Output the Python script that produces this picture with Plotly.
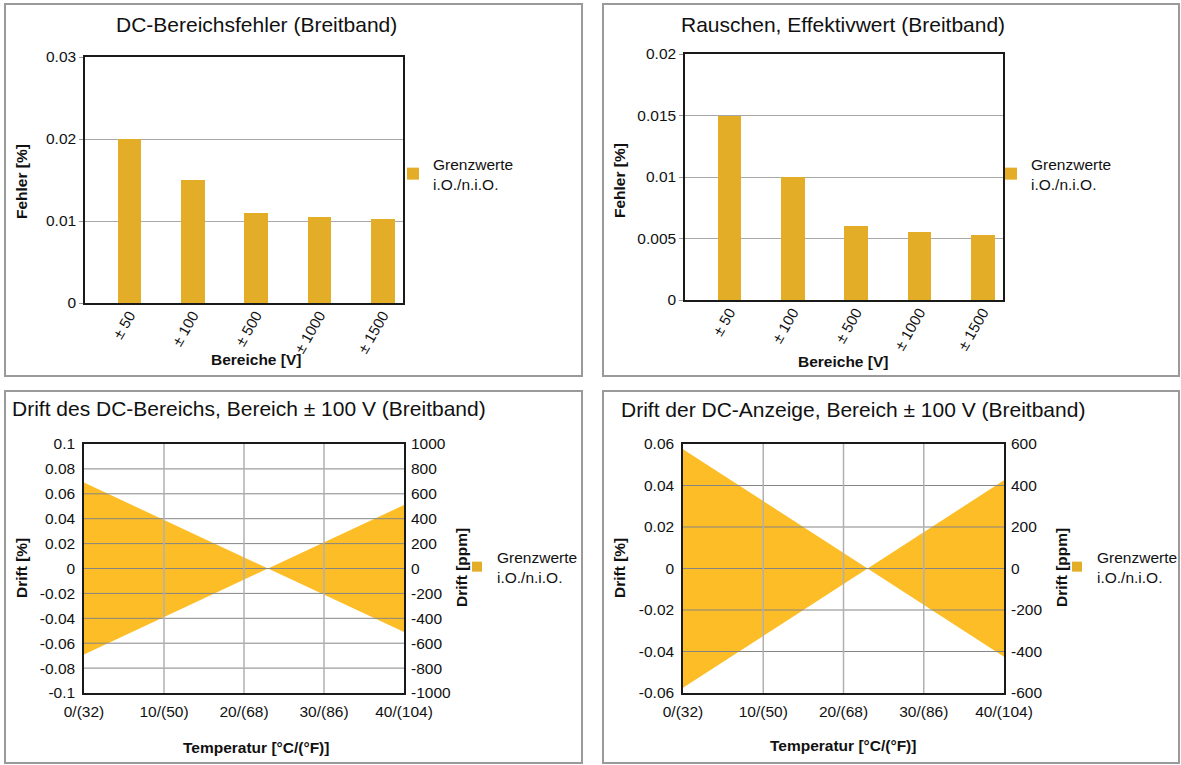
import plotly.graph_objects as go

W, H = 1181, 765

# ---------------- data ----------------
ranges = ["± 50", "± 100", "± 500", "± 1000", "± 1500"]
dc_range_error = [0.02, 0.015, 0.011, 0.0105, 0.0103]
noise_rms = [0.015, 0.01, 0.006, 0.0055, 0.0053]

temperatures = [0, 23, 40]
dc_range_drift = [0.069, 0.0, 0.051]
dc_display_drift = [0.0575, 0.0, 0.0425]

err_ticks = [0, 0.01, 0.02, 0.03]
noise_ticks = [0, 0.005, 0.01, 0.015, 0.02]
temp_ticks = [0, 10, 20, 30, 40]
temp_labels = ["0/(32)", "10/(50)", "20/(68)", "30/(86)", "40/(104)"]
drift1_ticks = [-0.1, -0.08, -0.06, -0.04, -0.02, 0, 0.02, 0.04, 0.06, 0.08, 0.1]
drift1_labels = ["-0.1", "-0.08", "-0.06", "-0.04", "-0.02", "0", "0.02", "0.04", "0.06", "0.08", "0.1"]
drift1_ppm_ticks = [-1000, -800, -600, -400, -200, 0, 200, 400, 600, 800, 1000]
drift1_ppm_labels = ["-1000", "-800", "-600", "-400", "-200", "0", "200", "400", "600", "800", "1000"]
drift2_ticks = [-0.06, -0.04, -0.02, 0, 0.02, 0.04, 0.06]
drift2_labels = ["-0.06", "-0.04", "-0.02", "0", "0.02", "0.04", "0.06"]
drift2_ppm_ticks = [-600, -400, -200, 0, 200, 400, 600]
drift2_ppm_labels = ["-600", "-400", "-200", "0", "200", "400", "600"]

legend_name = "Grenzwerte<br>i.O./n.i.O."

# ---------------- style ----------------
FONT = "Liberation Sans, Arial, sans-serif"
TXT = "#111111"
BAR = "#E3AD28"
FILL = "#FDBD27"
GRID = "#a8a8a8"
HGRID = "#858585"
VGRID = "#b0b0b0"
FRAME = "#1a1a1a"
BORDER = "#9a9a9a"
TS = 15.5


def px(x):
    return x / W


def py(y):
    return 1 - y / H


fig = go.Figure()

# top-left bars
fig.add_trace(go.Bar(x=ranges, y=dc_range_error, width=0.373, marker=dict(color=BAR, line=dict(width=0)),
                     name=legend_name, xaxis="x", yaxis="y", legend="legend"))
# top-right bars
fig.add_trace(go.Bar(x=ranges, y=noise_rms, width=0.373, marker=dict(color=BAR, line=dict(width=0)),
                     name=legend_name, xaxis="x2", yaxis="y2", legend="legend2"))

# bottom-left band
fig.add_trace(go.Scatter(x=temperatures, y=[-v for v in dc_range_drift], mode="lines", line=dict(width=0),
                         showlegend=False, xaxis="x3", yaxis="y3", hoverinfo="skip"))
fig.add_trace(go.Scatter(x=temperatures, y=dc_range_drift, mode="lines", line=dict(width=0), fill="tonexty",
                         fillcolor=FILL, showlegend=False, xaxis="x3", yaxis="y3"))
fig.add_trace(go.Scatter(x=[None], y=[None], mode="markers", marker=dict(symbol="square", size=10, color=BAR),
                         name=legend_name, xaxis="x3", yaxis="y4", legend="legend3"))

# bottom-right band
fig.add_trace(go.Scatter(x=temperatures, y=[-v for v in dc_display_drift], mode="lines", line=dict(width=0),
                         showlegend=False, xaxis="x4", yaxis="y5", hoverinfo="skip"))
fig.add_trace(go.Scatter(x=temperatures, y=dc_display_drift, mode="lines", line=dict(width=0), fill="tonexty",
                         fillcolor=FILL, showlegend=False, xaxis="x4", yaxis="y5"))
fig.add_trace(go.Scatter(x=[None], y=[None], mode="markers", marker=dict(symbol="square", size=10, color=BAR),
                         name=legend_name, xaxis="x4", yaxis="y6", legend="legend4"))

tickfont = dict(family=FONT, size=TS, color=TXT)
cattickfont = dict(family=FONT, size=15, color=TXT)

frame = dict(showline=True, mirror=True, linecolor=FRAME, linewidth=1.5, zeroline=False)

layout = dict(
    width=W, height=H, autosize=False,
    margin=dict(l=0, r=0, t=0, b=0, pad=0, autoexpand=False),
    paper_bgcolor="white", plot_bgcolor="white",
    font=dict(family=FONT, size=TS, color=TXT),
    bargap=0,
    xaxis=dict(domain=[px(85), px(403)], anchor="y", type="category", range=[-0.7, 4.32],
               tickangle=-60, ticks="", showgrid=False, tickfont=cattickfont, ticklabelstandoff=-4, **frame),
    yaxis=dict(domain=[py(303), py(57)], anchor="x", range=[0, 0.03], tickvals=err_ticks,
               showgrid=True, gridcolor=GRID, gridwidth=1, ticks="outside", ticklen=4, tickcolor="#999999",
               tickfont=tickfont, **frame),
    xaxis2=dict(domain=[px(685), px(1003)], anchor="y2", type="category", range=[-0.7, 4.32],
                tickangle=-60, ticks="", showgrid=False, tickfont=cattickfont, ticklabelstandoff=-4, **frame),
    yaxis2=dict(domain=[py(300), py(54)], anchor="x2", range=[0, 0.02], tickvals=noise_ticks,
                showgrid=True, gridcolor=GRID, gridwidth=1, ticks="outside", ticklen=4, tickcolor="#999999",
                tickfont=tickfont, **frame),
    xaxis3=dict(domain=[px(84), px(404)], anchor="y3", range=[0, 40], tickvals=temp_ticks, ticktext=temp_labels,
                ticks="", showgrid=False, tickfont=tickfont, ticklabelstandoff=4, **frame),
    yaxis3=dict(domain=[py(693), py(444)], anchor="x3", range=[-0.1, 0.1], tickvals=drift1_ticks,
                ticktext=drift1_labels, ticks="", showgrid=False, tickfont=tickfont, ticklabelstandoff=4, **frame),
    yaxis4=dict(overlaying="y3", anchor="x3", side="right", range=[-1000, 1000], tickvals=drift1_ppm_ticks,
                ticktext=drift1_ppm_labels, ticks="", showgrid=False, zeroline=False, showline=False,
                tickfont=tickfont, ticklabelstandoff=6),
    xaxis4=dict(domain=[px(683), px(1004)], anchor="y5", range=[0, 40], tickvals=temp_ticks, ticktext=temp_labels,
                ticks="", showgrid=False, tickfont=tickfont, ticklabelstandoff=4, **frame),
    yaxis5=dict(domain=[py(693), py(444)], anchor="x4", range=[-0.06, 0.06], tickvals=drift2_ticks,
                ticktext=drift2_labels, ticks="", showgrid=False, tickfont=tickfont, ticklabelstandoff=4, **frame),
    yaxis6=dict(overlaying="y5", anchor="x4", side="right", range=[-600, 600], tickvals=drift2_ppm_ticks,
                ticktext=drift2_ppm_labels, ticks="", showgrid=False, zeroline=False, showline=False,
                tickfont=tickfont, ticklabelstandoff=6),
)


def legend_at(sx, sy):
    return dict(x=px(sx - 24), y=py(sy), xanchor="left", yanchor="middle", bgcolor="rgba(0,0,0,0)",
                borderwidth=0, font=dict(family=FONT, size=TS, color=TXT), itemwidth=30)


layout["legend"] = legend_at(417, 174)
layout["legend2"] = legend_at(1015, 174)
layout["legend3"] = legend_at(481, 567)
layout["legend4"] = legend_at(1081, 567)

fig.update_layout(**layout)

shapes = []
# panel borders
for x0, y0, x1, y1 in [(5, 4, 582, 376), (603, 4, 1179, 376), (5, 391, 582, 763), (603, 391, 1179, 763)]:
    shapes.append(dict(type="rect", xref="paper", yref="paper", x0=px(x0), x1=px(x1), y0=py(y1), y1=py(y0),
                       line=dict(color=BORDER, width=2), fillcolor="rgba(0,0,0,0)", layer="below"))
# gridlines on top of the bands
for xa, ya, ticks in [("x3", "y3", drift1_ticks), ("x4", "y5", drift2_ticks)]:
    for t in ticks[1:-1]:
        shapes.append(dict(type="line", xref=xa + " domain", yref=ya, x0=0, x1=1, y0=t, y1=t,
                           line=dict(color=HGRID, width=1), layer="above"))
    for t in temp_ticks[1:-1]:
        shapes.append(dict(type="line", xref=xa, yref=ya + " domain", x0=t, x1=t, y0=0, y1=1,
                           line=dict(color=VGRID, width=1.5), layer="above"))
fig.update_layout(shapes=shapes)

ann = []


def text(x, y, s, size=TS, bold=False, angle=0, xanchor="center"):
    ann.append(dict(x=px(x), y=py(y), xref="paper", yref="paper", text=("<b>%s</b>" % s) if bold else s,
                    showarrow=False, textangle=angle, xanchor=xanchor, yanchor="middle",
                    font=dict(family=FONT, size=size, color=TXT)))


# titles
text(256, 25, "DC-Bereichsfehler (Breitband)", size=21)
text(843, 25, "Rauschen, Effektivwert (Breitband)", size=21)
text(10, 408, "Drift des DC-Bereichs, Bereich ± 100 V (Breitband)", size=21, xanchor="left")
text(619, 409, "Drift der DC-Anzeige, Bereich ± 100 V (Breitband)", size=21, xanchor="left")
# axis titles
text(256, 359, "Bereiche [V]", bold=True)
text(21, 182, "Fehler [%]", bold=True, angle=-90)
text(843, 361, "Bereiche [V]", bold=True)
text(619, 181, "Fehler [%]", bold=True, angle=-90)
text(256, 747, "Temperatur [°C/(°F)]", bold=True)
text(21, 568, "Drift [%]", bold=True, angle=-90)
text(461, 568, "Drift [ppm]", bold=True, angle=-90)
text(843, 745, "Temperatur [°C/(°F)]", bold=True)
text(619, 568, "Drift [%]", bold=True, angle=-90)
text(1061, 568, "Drift [ppm]", bold=True, angle=-90)
fig.update_layout(annotations=ann)

fig.write_html("out.html", config={"displayModeBar": False},
               post_script="document.body.style.margin='0px';document.body.style.overflow='hidden';")
